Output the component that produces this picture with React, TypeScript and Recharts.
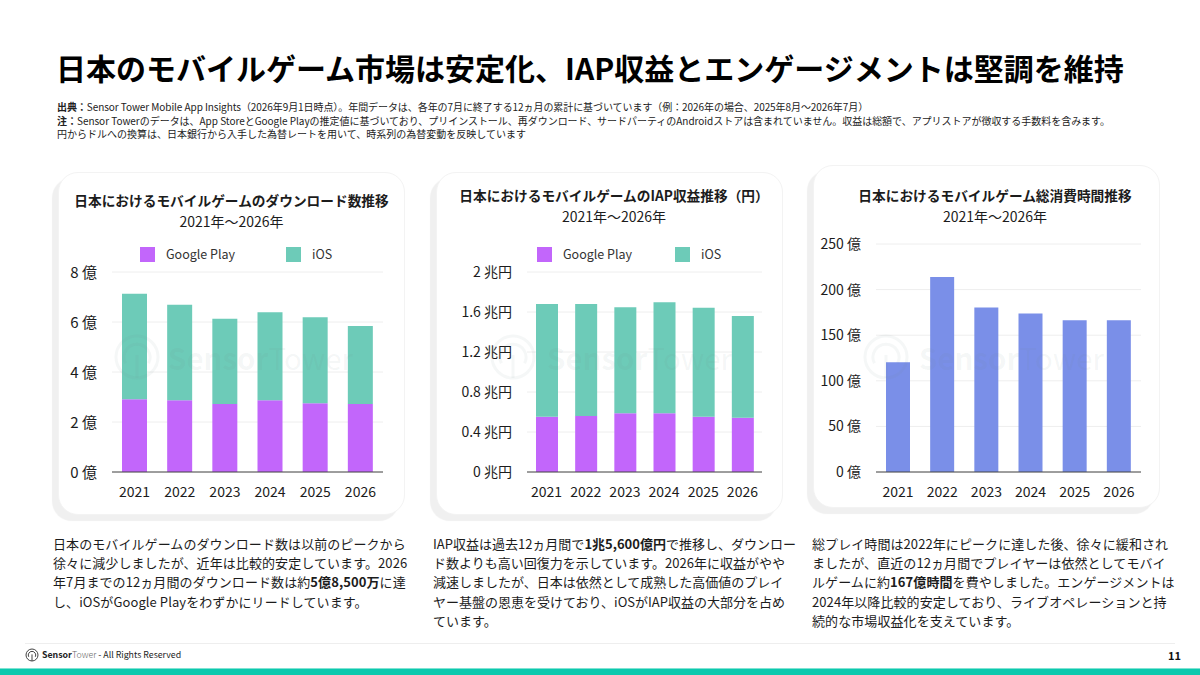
import React from 'react';
import { BarChart, Bar, XAxis, YAxis, CartesianGrid, Legend } from 'recharts';

const FONT = '"Noto Sans CJK JP", "Noto Sans", sans-serif';
const PURPLE = '#c266fb';
const TEAL = '#6dcbb8';
const BLUE = '#7a8fe8';
const INK = '#1c1c1c';

const years = ['2021', '2022', '2023', '2024', '2025', '2026'];

// 億 downloads
const downloadsGooglePlay = [2.91, 2.87, 2.72, 2.87, 2.75, 2.72];
const downloadsIos = [4.22, 3.82, 3.41, 3.52, 3.44, 3.12];
const downloadTicks = [0, 2, 4, 6, 8];

// 兆円
const revenueGooglePlay = [0.553, 0.56, 0.587, 0.587, 0.553, 0.543];
const revenueIos = [1.127, 1.12, 1.06, 1.11, 1.09, 1.017];
const revenueTicks = [0, 0.4, 0.8, 1.2, 1.6, 2];

// 億 hours
const playTime = [120.4, 213.8, 180.5, 173.9, 166.5, 166.5];
const playTimeTicks = [0, 50, 100, 150, 200, 250];

const downloadRows = years.map((year, i) => ({ year, gp: downloadsGooglePlay[i], ios: downloadsIos[i] }));
const revenueRows = years.map((year, i) => ({ year, gp: revenueGooglePlay[i], ios: revenueIos[i] }));
const playRows = years.map((year, i) => ({ year, hours: playTime[i] }));

const abs = (left: number, top: number, extra: React.CSSProperties = {}): React.CSSProperties => ({
  position: 'absolute',
  left,
  top,
  whiteSpace: 'nowrap',
  ...extra,
});

function Line({ left, top, size, text, bold, anchorCenter }: any) {
  return (
    <div
      style={abs(left, top, {
        fontSize: size,
        lineHeight: '20px',
        height: 20,
        color: INK,
        fontWeight: bold ? 700 : 400,
        transform: anchorCenter ? 'translateX(-50%)' : undefined,
      })}
    >
      {text}
    </div>
  );
}

function Card({ left, top }: { left: number; top: number }) {
  return (
    <div
      style={abs(left, top, {
        width: 347,
        height: 343,
        boxSizing: 'border-box',
        background: '#fff',
        border: '1.5px solid #f3f3f3',
        borderRadius: 20,
        boxShadow: '-6px 6px 1px #f0f0f0',
      })}
    />
  );
}

function TowerMark({ x, y, r, color, sw }: any) {
  return (
    <svg style={abs(x - r - sw, y - r - sw)} width={(r + sw) * 2} height={(r + sw) * 2}>
      <g transform={`translate(${r + sw},${r + sw})`} fill="none" stroke={color} strokeWidth={sw}>
        <circle r={r} />
        <path d={`M ${-r * 0.55} ${r * 0.3} A ${r * 0.62} ${r * 0.62} 0 1 1 ${r * 0.55} ${r * 0.3}`} />
        <path d={`M 0 ${-r * 0.1} L 0 ${r}`} />
      </g>
    </svg>
  );
}

function Watermark({ markX, textX }: { markX: number; textX: number }) {
  const c = 'rgba(110,135,135,0.07)';
  return (
    <>
      <TowerMark x={markX} y={357} r={21} sw={3} color={c} />
      <div style={abs(textX, 337, { fontSize: 29.5, lineHeight: '40px', color: c })}>
        <b>Sensor</b>
        <span>Tower</span>
      </div>
    </>
  );
}

function ChartLegend({ payload, squareX, gap }: any) {
  return (
    <div style={{ height: 36, position: 'relative', fontSize: 12.5, color: '#333' }}>
      {(payload ?? []).map((entry: any, i: number) => (
        <React.Fragment key={entry.value}>
          <span
            style={{
              position: 'absolute',
              left: squareX + i * gap,
              top: 11,
              width: 15,
              height: 15,
              background: entry.color,
            }}
          />
          <span style={{ position: 'absolute', left: squareX + i * gap + 26, top: 8, lineHeight: '20px', whiteSpace: 'nowrap' }}>
            {entry.value}
          </span>
        </React.Fragment>
      ))}
    </div>
  );
}

function StackedChart({ left, data, ticks, max, unit, yWidth, right, barSize, tickSize, tickDy, squareX, gap }: any) {
  return (
    <div style={abs(left, 236)}>
      <BarChart
        width={347}
        height={280}
        data={data}
        margin={{ top: 0, right, left: 0, bottom: 14 }}
      >
        <CartesianGrid vertical={false} stroke="#eeeeee" />
        <XAxis
          dataKey="year"
          stroke="#444"
          tickLine={false}
          tickSize={0}
          tickMargin={15}
          height={30}
          interval={0}
          tick={{ fontSize: 14, fill: INK }}
        />
        <YAxis
          width={yWidth}
          domain={[0, max]}
          ticks={ticks}
          interval={0}
          axisLine={false}
          tickLine={false}
          tickSize={0}
          tickMargin={15}
          tick={{ fontSize: tickSize, fill: INK, dy: tickDy }}
          tickFormatter={(v: number) => `${v} ${unit}`}
        />
        <Legend
          verticalAlign="top"
          content={(props: any) => <ChartLegend {...props} squareX={squareX} gap={gap} />}
        />
        <Bar dataKey="gp" name="Google Play" stackId="a" fill={PURPLE} barSize={barSize} legendType="square" isAnimationActive={false} />
        <Bar dataKey="ios" name="iOS" stackId="a" fill={TEAL} barSize={barSize} legendType="square" isAnimationActive={false} />
      </BarChart>
    </div>
  );
}

function PlayTimeChart() {
  return (
    <div style={abs(813, 220)}>
      <BarChart width={347} height={296} data={playRows} margin={{ top: 24, right: 19, left: 0, bottom: 14 }}>
        <CartesianGrid vertical={false} stroke="#eeeeee" />
        <XAxis
          dataKey="year"
          stroke="#444"
          tickLine={false}
          tickSize={0}
          tickMargin={15}
          height={30}
          interval={0}
          tick={{ fontSize: 14, fill: INK }}
        />
        <YAxis
          width={63}
          domain={[0, 250]}
          ticks={playTimeTicks}
          interval={0}
          axisLine={false}
          tickLine={false}
          tickSize={0}
          tickMargin={15}
          tick={{ fontSize: 14, fill: INK }}
          tickFormatter={(v: number) => `${v} 億`}
        />
        <Bar dataKey="hours" fill={BLUE} barSize={24} isAnimationActive={false} />
      </BarChart>
    </div>
  );
}

export default function App() {
  return (
    <div
      style={{
        position: 'absolute',
        left: 0,
        top: 0,
        width: 1200,
        height: 675,
        overflow: 'hidden',
        background: '#fff',
        fontFamily: FONT,
        color: INK,
      }}
    >
      <div style={abs(56, 45, { fontSize: 30, lineHeight: '44px', fontWeight: 700, color: '#000' })}>
        日本のモバイルゲーム市場は安定化、IAP収益とエンゲージメントは堅調を維持
      </div>

      <div style={abs(57, 100, { fontSize: 10, lineHeight: '13.6px', color: '#222' })}>
        <div style={{ letterSpacing: -0.07 }}>
          <b>出典：</b>Sensor Tower Mobile App Insights（2026年9月1日時点）。年間データは、各年の7月に終了する12ヵ月の累計に基づいています（例：2026年の場合、2025年8月～2026年7月）
        </div>
        <div style={{ letterSpacing: -0.03 }}>
          <b>注：</b>Sensor Towerのデータは、App StoreとGoogle Playの推定値に基づいており、プリインストール、再ダウンロード、サードパーティのAndroidストアは含まれていません。収益は総額で、アプリストアが徴収する手数料を含みます。
        </div>
        <div>円からドルへの換算は、日本銀行から入手した為替レートを用いて、時系列の為替変動を反映しています</div>
      </div>

      <Card left={58} top={172} />
      <Card left={436} top={172} />
      <Card left={813} top={165} />

      <Line left={231.5} top={190} size={13.7} bold anchorCenter text="日本におけるモバイルゲームのダウンロード数推移" />
      <Line left={231.5} top={211} size={14} anchorCenter text="2021年～2026年" />
      <Line left={614} top={185} size={13.7} bold anchorCenter text="日本におけるモバイルゲームのIAP収益推移（円）" />
      <Line left={614} top={206} size={14} anchorCenter text="2021年～2026年" />
      <Line left={995} top={185} size={13.7} bold anchorCenter text="日本におけるモバイルゲーム総消費時間推移" />
      <Line left={995} top={206} size={14} anchorCenter text="2021年～2026年" />

      <StackedChart left={58} data={downloadRows} ticks={downloadTicks} max={8} unit="億" yWidth={54} right={22} barSize={25} tickSize={15} tickDy={1} squareX={82} gap={146} />
      <StackedChart left={436} data={revenueRows} ticks={revenueTicks} max={2} unit="兆円" yWidth={91} right={21} barSize={22} tickSize={14} tickDy={0} squareX={101} gap={138} />
      <PlayTimeChart />

      <Watermark markX={137} textX={168} />
      <Watermark markX={513} textX={547} />
      <Watermark markX={886} textX={919} />

      <div style={abs(53, 534, { fontSize: 13, lineHeight: '19.2px', letterSpacing: 0.08 })}>
        <div>日本のモバイルゲームのダウンロード数は以前のピークから</div>
        <div>徐々に減少しましたが、近年は比較的安定しています。2026</div>
        <div>年7月までの12ヵ月間のダウンロード数は約<b>5億8,500万</b>に達</div>
        <div>し、iOSがGoogle Playをわずかにリードしています。</div>
      </div>
      <div style={abs(433, 534, { fontSize: 13, lineHeight: '19.2px' })}>
        <div>IAP収益は過去12ヵ月間で<b>1兆5,600億円</b>で推移し、ダウンロー</div>
        <div>ド数よりも高い回復力を示しています。2026年に収益がやや</div>
        <div>減速しましたが、日本は依然として成熟した高価値のプレイ</div>
        <div>ヤー基盤の恩恵を受けており、iOSがIAP収益の大部分を占め</div>
        <div>ています。</div>
      </div>
      <div style={abs(812, 534, { fontSize: 13, lineHeight: '19.2px', letterSpacing: 0.08 })}>
        <div>総プレイ時間は2022年にピークに達した後、徐々に緩和され</div>
        <div>ましたが、直近の12ヵ月間でプレイヤーは依然としてモバイ</div>
        <div>ルゲームに約<b>167億時間</b>を費やしました。エンゲージメントは</div>
        <div>2024年以降比較的安定しており、ライブオペレーションと持</div>
        <div>続的な市場収益化を支えています。</div>
      </div>

      <div style={abs(25, 643, { width: 1150, height: 1, background: '#eeeeee' })} />
      <TowerMark x={32} y={655} r={6} sw={1} color="#444" />
      <div style={abs(42, 648, { fontSize: 8.8, lineHeight: '14px', color: '#222' })}>
        <b>Sensor</b>
        <span style={{ color: '#666', fontWeight: 300 }}>Tower</span> - All Rights Reserved
      </div>
      <div style={abs(1168, 648, { fontSize: 11, lineHeight: '15px', fontWeight: 700, color: '#111' })}>11</div>
      <div style={abs(0, 668, { width: 1200, height: 7, boxSizing: 'border-box', borderTop: '1px solid #7fe3d3', background: '#0cc9ae' })} />
    </div>
  );
}
